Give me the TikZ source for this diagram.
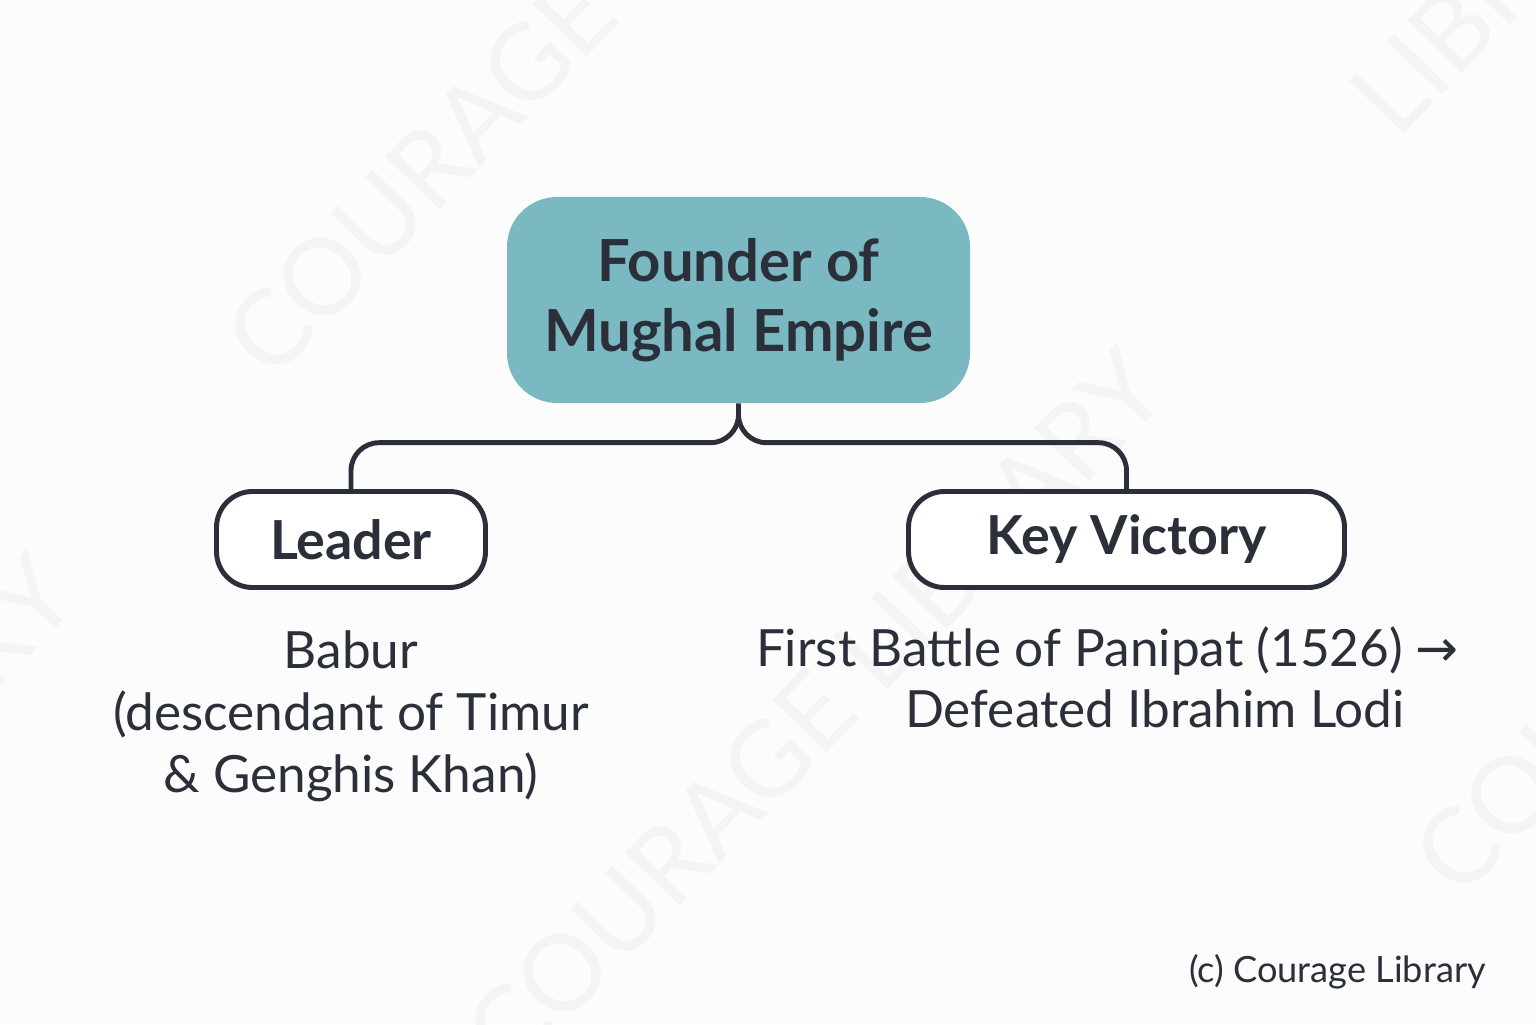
\documentclass[tikz,border=0pt]{standalone}
\usepackage{fontspec}
\setmainfont{Lato}
\newfontfamily\arrowfont{DejaVu Sans}
\usetikzlibrary{positioning,calc}
\definecolor{ink}{RGB}{42,47,58}
\definecolor{rootfill}{RGB}{123,185,194}
\definecolor{paper}{RGB}{252,252,252}
\definecolor{wmark}{RGB}{244,244,244}

\begin{document}
\begin{tikzpicture}[root/.style={rectangle, rounded corners=0.5cm, fill=rootfill, minimum width=4.63cm, minimum height=2.06cm, align=center, text=ink, font=\fontsize{16.5}{19.8}\selectfont\bfseries},
            tag/.style={rectangle, rounded corners=0.36cm, draw=ink, line width=1.4pt, fill=white, minimum height=0.96cm, text=ink, font=\fontsize{15.3}{19}\selectfont\bfseries},
            info/.style={inner sep=0pt, align=center, text=ink, font=\fontsize{14.6}{17.6}\selectfont},
            link/.style={draw=ink, line width=1.4pt, rounded corners=0.28cm},
            wm/.style={rotate=46, inner sep=0pt, text=wmark, font=\fontsize{30}{30}\selectfont}]
            \useasboundingbox (0,0) rectangle (15.36,10.24);
            \fill [paper] (0,0) rectangle (15.36,10.24);

            % faint watermark
            \begin{scope}
                \clip (0,0) rectangle (15.36,10.24);
                \node (wm1) [wm, anchor=west] at (2.45,6.67) {COURAGE LIBRARY};
                \node (wm2) [wm, anchor=west] at (4.85,-0.29) {COURAGE LIBRARY};
                \node (wm3) [wm, anchor=west] at (13.70,9.09) {LIBRARY};
                \node (wm4) [wm, anchor=east] at (0.55,4.49) {LIBRARY};
                \node (wm5) [wm, anchor=west] at (14.33,1.49) {COURAGE};
            \end{scope}

            \node (root) [root] at (7.385,7.24) {Founder of\\Mughal Empire};

            \node (leader) [tag, minimum width=2.69cm] at (3.51,4.845) {Leader};
            \node (key) [tag, minimum width=4.36cm] at (11.265,4.845) {Key Victory};

            \coordinate (hub) at ($(root.south) + (0,-0.39)$);
            \draw [link] (root.south) |- (leader.north |- hub) -- (leader.north);
            \draw [link] (root.south) |- (key.north |- hub) -- (key.north);

            \node (babur) [below=0.40cm of leader, info] {Babur\\(descendant of Timur\\\& Genghis Khan)};

            \node (battle) [info, anchor=base] at (11.075,3.58) {First Battle of Panipat (1526) {\arrowfont →}};
            \node (lodi) [info, anchor=base] at ($(battle.base) + (0.475,-0.61)$) {Defeated Ibrahim Lodi};

            \node (credit) [info, anchor=base, font=\fontsize{10.3}{12}\selectfont] at (13.375,0.42) {(c) Courage Library};
        \end{tikzpicture}
\end{document}
